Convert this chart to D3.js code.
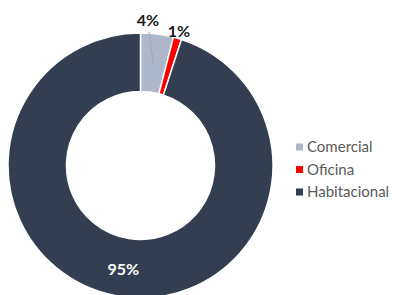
<!DOCTYPE html>
<html lang="es">
<head>
<meta charset="UTF-8">
<title>Donut</title>
<script src="https://d3js.org/d3.v7.min.js"></script>
<style>
  body { margin: 0; background: #fff; }
  svg text { font-family: Lato, "Open Sans", sans-serif; }
</style>
</head>
<body>
<div id="chart"></div>
<script>
    // data
    var categories = ['Comercial', 'Oficina', 'Habitacional'];
    var values = [4, 1, 95];
    var labels = ['4%', '1%', '95%'];
    var colors = ['#adb9ca', '#ff0000', '#333f50'];

    var width = 396, height = 295;
    var cx = 140.5, cy = 165.5, outerR = 132.5, innerR = 74;

    var svg = d3.select('#chart').append('svg')
        .attr('width', width)
        .attr('height', height);

    var pie = d3.pie().sort(null).value(function (d) { return d; });
    var arcs = pie(values);
    var arc = d3.arc().innerRadius(innerR).outerRadius(outerR);

    var g = svg.append('g').attr('transform', 'translate(' + cx + ',' + cy + ')');

    g.selectAll('path.slice')
        .data(arcs)
        .enter().append('path')
        .attr('class', 'slice')
        .attr('d', arc)
        .attr('fill', function (d, i) { return colors[i]; })
        .attr('stroke', '#fff')
        .attr('stroke-width', 1.5);

    // leader line for the Comercial slice
    var c0 = arc.centroid(arcs[0]);
    g.append('line')
        .attr('x1', c0[0] - 4.5).attr('y1', c0[1] - 31)
        .attr('x2', c0[0]).attr('y2', c0[1])
        .attr('stroke', '#a6a6a6')
        .attr('stroke-width', 1);

    // label positions: small slices outside, big one inside
    var outArc = d3.arc().innerRadius(outerR + 14).outerRadius(outerR + 14);
    var inArc = d3.arc().innerRadius(0).outerRadius(outerR * 0.88);
    var labelPos = [
        [outArc.centroid(arcs[0])[0] - 11, -outerR - 7.5],
        [outArc.centroid(arcs[1])[0] - 2.5, -outerR + 3.5],
        [inArc.centroid(arcs[2])[0] - 8, outerR - 23.5]
    ];

    g.selectAll('text.lbl')
        .data(arcs)
        .enter().append('text')
        .attr('class', 'lbl')
        .attr('x', function (d, i) { return labelPos[i][0]; })
        .attr('y', function (d, i) { return labelPos[i][1]; })
        .attr('text-anchor', 'middle')
        .attr('font-size', 16)
        .attr('font-weight', 'bold')
        .attr('fill', function (d, i) { return i === 2 ? '#ffffff' : '#1a1a1a'; })
        .text(function (d, i) { return labels[i]; });

    // legend
    var legend = svg.append('g').attr('transform', 'translate(296, 147)');
    var row = legend.selectAll('g')
        .data(categories)
        .enter().append('g')
        .attr('transform', function (d, i) { return 'translate(0,' + (i * 22.5) + ')'; });

    row.append('rect')
        .attr('x', 0).attr('y', -3.5)
        .attr('width', 7).attr('height', 7)
        .attr('fill', function (d, i) { return colors[i]; });

    row.append('text')
        .attr('x', 11)
        .attr('y', 0)
        .attr('dy', '0.35em')
        .attr('font-size', 15)
        .attr('fill', '#595959')
        .text(function (d) { return d; });
</script>
</body>
</html>
